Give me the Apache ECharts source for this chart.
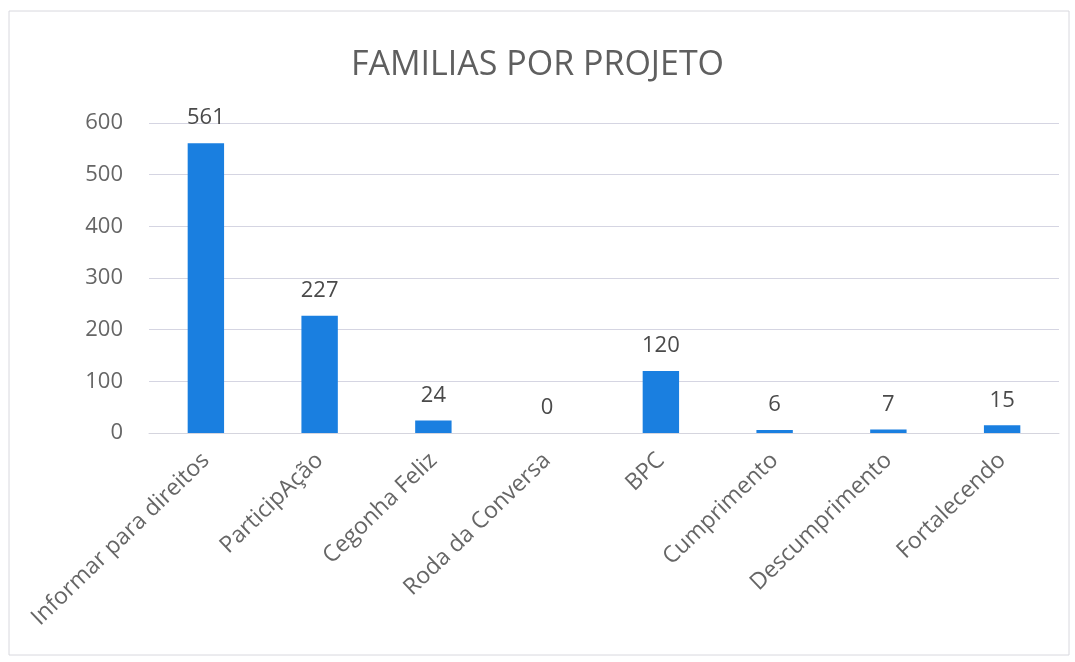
<!DOCTYPE html>
<html><head><meta charset="utf-8">
<script src="https://cdn.jsdelivr.net/npm/echarts@6/dist/echarts.min.js"></script>
<style>html,body{margin:0;padding:0;background:#fff}#c{width:1075px;height:662px}</style>
</head><body><div id="c"></div>
<script>
const titleText = "FAMILIAS POR PROJETO";
const categories = ["Informar para direitos","ParticipAção","Cegonha Feliz","Roda da Conversa","BPC","Cumprimento","Descumprimento","Fortalecendo"];
const values = [561,227,24,0,120,6,7,15];
const yMin = 0, yMax = 600, yStep = 100;

const chart = echarts.init(document.getElementById('c'));
chart.setOption({
  animation:false,
  backgroundColor:'#ffffff',
  graphic:[{type:'rect',shape:{x:9,y:11,width:1060,height:644},style:{fill:'none',stroke:'#d8d8de',lineWidth:1}}],
  title:{text:titleText,left:'center',top:43,textStyle:{fontFamily:'Open Sans',fontSize:34,fontWeight:'normal',color:'#5f5f5f'}},
  grid:{left:149,right:16,top:123,bottom:229},
  xAxis:{type:'category',data:categories,
    axisLine:{show:true,lineStyle:{color:'#d5d5de'}},axisTick:{show:false},
    axisLabel:{rotate:44,interval:0,fontFamily:'Open Sans',fontSize:23,color:'#666666',margin:24}},
  yAxis:{type:'value',min:yMin,max:yMax,interval:yStep,
    axisLine:{show:false},axisTick:{show:false},
    splitLine:{lineStyle:{color:'#d5d5e2',width:1}},
    axisLabel:{fontFamily:'Open Sans',fontSize:22,color:'#666666',margin:26}},
  series:[{type:'bar',data:values,barWidth:'32%',itemStyle:{color:'#1a7fe0'},
    label:{show:true,position:'top',distance:14,fontFamily:'Open Sans',fontSize:22,color:'#4a4a4a'}}]
});
</script></body></html>
